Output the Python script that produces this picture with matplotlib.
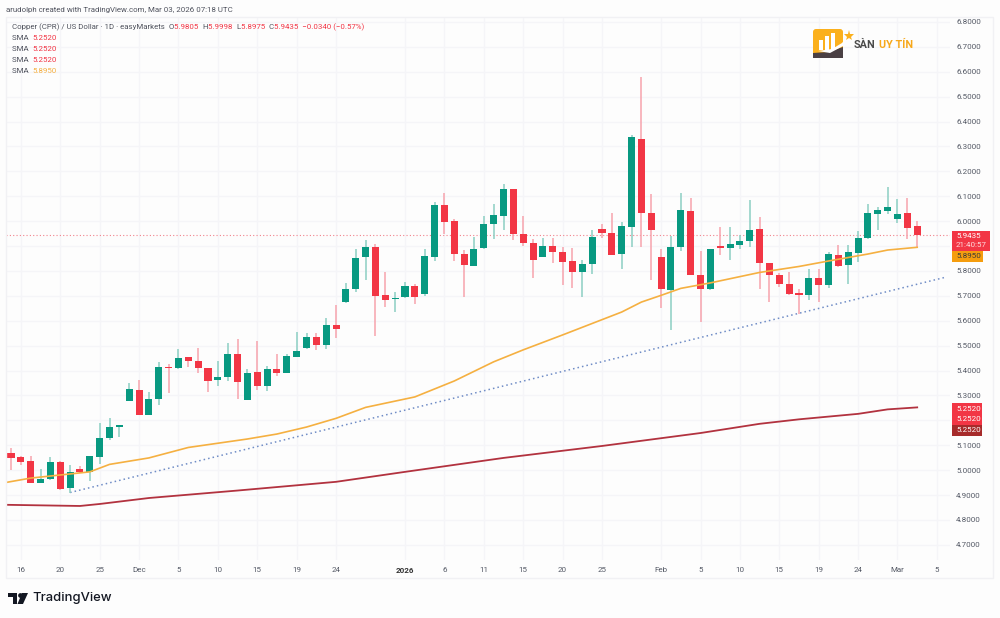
import matplotlib
matplotlib.use('Agg')
import matplotlib.pyplot as plt
from matplotlib.patches import Rectangle, FancyBboxPatch, Polygon

plt.rcParams['font.family'] = ['Roboto', 'DejaVu Sans']

# daily candles
opens = [5.069, 5.053, 5.036, 4.950, 4.965, 5.033, 4.927, 5.004, 4.992, 5.054,
         5.128, 5.175, 5.278, 5.322, 5.222, 5.285, 5.416, 5.409, 5.453, 5.440,
         5.409, 5.361, 5.373, 5.467, 5.282, 5.393, 5.339, 5.406, 5.390, 5.456,
         5.490, 5.534, 5.503, 5.582, 5.675, 5.728, 5.855, 5.895, 5.702, 5.688,
         5.694, 5.739, 5.706, 5.857, 6.066, 6.001, 5.867, 5.821, 5.892, 5.989,
         6.021, 6.128, 5.949, 5.914, 5.857, 5.899, 5.878, 5.839, 5.796, 5.827,
         5.970, 5.951, 5.868, 5.978, 6.330, 6.034, 5.855, 5.724, 5.898, 6.040,
         5.784, 5.726, 5.899, 5.891, 5.906, 5.922, 5.967, 5.833, 5.784, 5.749,
         5.710, 5.704, 5.771, 5.744, 5.864, 5.824, 5.874, 5.931, 6.028, 6.041,
         6.010, 6.032, 5.9805]
highs = [5.090, 5.057, 5.057, 5.004, 5.052, 5.038, 5.020, 5.017, 5.056, 5.188,
         5.208, 5.182, 5.351, 5.362, 5.313, 5.433, 5.425, 5.487, 5.453, 5.492,
         5.409, 5.439, 5.512, 5.528, 5.406, 5.518, 5.418, 5.465, 5.467, 5.555,
         5.550, 5.551, 5.611, 5.663, 5.753, 5.887, 5.925, 5.907, 5.795, 5.715,
         5.755, 5.747, 5.887, 6.076, 6.112, 6.008, 5.884, 5.938, 6.021, 6.069,
         6.149, 6.128, 6.022, 5.927, 5.933, 5.933, 5.895, 5.894, 5.844, 5.963,
         5.989, 6.032, 5.998, 6.345, 6.580, 6.109, 5.888, 5.941, 6.112, 6.092,
         5.880, 5.889, 5.976, 5.976, 5.945, 6.085, 6.018, 5.833, 5.791, 5.797,
         5.726, 5.808, 5.809, 5.875, 5.903, 5.903, 5.962, 6.068, 6.056, 6.139,
         6.088, 6.092, 5.9998]
lows = [5.001, 5.021, 4.949, 4.949, 4.962, 4.922, 4.910, 4.988, 4.957, 5.024,
        5.121, 5.135, 5.278, 5.222, 5.222, 5.262, 5.311, 5.405, 5.416, 5.392,
        5.313, 5.338, 5.358, 5.285, 5.281, 5.322, 5.318, 5.380, 5.390, 5.456,
        5.487, 5.483, 5.487, 5.530, 5.673, 5.714, 5.764, 5.540, 5.657, 5.637,
        5.692, 5.667, 5.700, 5.840, 5.949, 5.840, 5.697, 5.818, 5.888, 5.930,
        5.965, 5.925, 5.900, 5.773, 5.855, 5.833, 5.744, 5.733, 5.694, 5.787,
        5.931, 5.865, 5.808, 5.898, 5.895, 5.764, 5.653, 5.563, 5.880, 5.782,
        5.594, 5.725, 5.864, 5.844, 5.887, 5.898, 5.728, 5.676, 5.737, 5.704,
        5.627, 5.684, 5.677, 5.731, 5.817, 5.748, 5.837, 5.930, 5.965, 6.029,
        5.994, 5.928, 5.8975]
closes = [5.048, 5.033, 4.950, 4.966, 5.033, 4.924, 4.993, 4.992, 5.056, 5.131,
          5.175, 5.182, 5.325, 5.222, 5.286, 5.414, 5.409, 5.451, 5.439, 5.409,
          5.359, 5.374, 5.467, 5.354, 5.392, 5.339, 5.405, 5.390, 5.459, 5.480,
          5.534, 5.503, 5.583, 5.568, 5.729, 5.850, 5.897, 5.698, 5.684, 5.693,
          5.740, 5.695, 5.861, 6.066, 5.997, 5.867, 5.824, 5.888, 5.988, 6.024,
          6.128, 5.949, 5.914, 5.844, 5.899, 5.878, 5.836, 5.796, 5.827, 5.935,
          5.953, 5.866, 5.981, 6.337, 6.033, 5.963, 5.726, 5.896, 6.044, 5.785,
          5.726, 5.887, 5.892, 5.907, 5.922, 5.966, 5.832, 5.784, 5.748, 5.709,
          5.702, 5.771, 5.744, 5.868, 5.820, 5.875, 5.933, 6.032, 6.044, 6.058,
          6.030, 5.974, 5.9435]

sma_fast_x = [-1, 2, 8, 10, 14, 18, 24, 27, 30, 33, 36, 41, 45, 49, 52, 56, 62,
              64, 66, 68, 71, 76, 80, 83, 87, 89, 92]
sma_fast_y = [4.947, 4.968, 4.993, 5.023, 5.049, 5.091, 5.125, 5.145, 5.173,
              5.208, 5.252, 5.294, 5.358, 5.435, 5.483, 5.543, 5.635, 5.675,
              5.702, 5.730, 5.752, 5.794, 5.818, 5.840, 5.868, 5.884, 5.895]
sma_slow_x = [-1, 7, 9, 14, 23, 33, 40, 50, 60, 70, 76, 80, 86, 89, 92]
sma_slow_y = [4.861, 4.856, 4.864, 4.888, 4.918, 4.953, 4.993, 5.049, 5.097,
              5.149, 5.186, 5.204, 5.226, 5.244, 5.252]
trend_x = [6, 94.8]
trend_y = [4.910, 5.774]

last_price = 5.9435

date_pos = [1, 5, 9, 13, 17, 21, 25, 29, 33, 40, 44, 48, 52, 56, 60, 66, 70, 74,
            78, 82, 86, 90, 94]
date_labels = ['16', '20', '25', 'Dec', '5', '10', '15', '19', '24', '2026', '6',
               '11', '15', '20', '25', 'Feb', '5', '10', '15', '19', '24', 'Mar', '5']
price_ticks = [6.8, 6.7, 6.6, 6.5, 6.4, 6.3, 6.2, 6.1, 6.0, 5.9, 5.8, 5.7, 5.6,
               5.5, 5.4, 5.3, 5.2, 5.1, 5.0, 4.9, 4.8, 4.7]
hidden_prices = [5.9, 5.2]

UP = '#089981'
DOWN = '#f23645'
UP_WICK = '#8ccfc3'
DOWN_WICK = '#f7a3ad'
ORANGE = '#f5b041'
MAROON = '#b2323f'
TEXT = '#555a66'
GRID = '#f5f5f8'
FS = 5.8

W, H = 1000, 618
fig = plt.figure(figsize=(W / 100, H / 100), dpi=100, facecolor='#fdfdfd')

# chart pane: x 6..950, y 17..560 in picture pixels
ax = fig.add_axes([6 / W, 1 - 560 / H, 944 / W, 543 / H], facecolor='#fdfdfd')
ax.set_xlim(-0.508, 95.33)
ax.set_ylim(4.639, 6.82)

for i in range(len(opens)):
    up = closes[i] >= opens[i]
    ax.vlines(i, lows[i], highs[i], color=UP_WICK if up else DOWN_WICK, lw=1.1, zorder=3)
    ax.bar(i, abs(closes[i] - opens[i]), bottom=min(opens[i], closes[i]), width=0.72,
           color=UP if up else DOWN, linewidth=0, zorder=4)

ax.plot(sma_slow_x, sma_slow_y, color=MAROON, lw=1.3, zorder=2)
ax.plot(sma_fast_x, sma_fast_y, color=ORANGE, lw=1.2, zorder=5)
ax.plot(trend_x, trend_y, color='#6f8cc6', lw=1.1, ls=(0, (1, 2)), zorder=2)
ax.axhline(last_price, color='#f2828c', lw=0.8, ls=(0, (1, 2)), zorder=2)

ax.set_xticks(date_pos)
ax.set_xticklabels(date_labels)
ax.yaxis.tick_right()
ax.set_yticks(price_ticks)
ax.set_yticklabels(['' if p in hidden_prices else '%.4f' % p for p in price_ticks])
ax.tick_params(axis='both', length=0, labelsize=FS, labelcolor=TEXT)
ax.tick_params(axis='x', pad=5)
ax.tick_params(axis='y', pad=4.5)
for lab, txt in zip(ax.get_xticklabels(), date_labels):
    if txt == '2026':
        lab.set_fontweight('bold')
        lab.set_color('#333333')
ax.grid(True, color=GRID, lw=1)
ax.set_axisbelow(True)
for s in ax.spines.values():
    s.set_visible(False)

# overlay in picture pixels for the frame, labels and logos
ov = fig.add_axes([0, 0, 1, 1], facecolor='none')
ov.set_xlim(0, W)
ov.set_ylim(H, 0)
ov.axis('off')

ov.add_patch(Rectangle((6, 17), 987, 561, fill=False, ec='#f1f1f4', lw=1))
ov.text(6, 10, 'arudolph created with TradingView.com, Mar 03, 2026 07:18 UTC',
        fontsize=5.7, color='#50535e', va='center')


def row(x, y, parts):
    # consecutive coloured pieces of one legend line
    for txt, col in parts:
        t = ov.text(x, y, txt, fontsize=5.7, color=col, va='center')
        x += t.get_window_extent(fig.canvas.get_renderer()).width


row(12, 27, [('Copper (CPR) / US Dollar · 1D · easyMarkets  O', '#50535e'), ('5.9805  ', DOWN),
             ('H', '#50535e'), ('5.9998  ', DOWN), ('L', '#50535e'), ('5.8975  ', DOWN),
             ('C', '#50535e'), ('5.9435  −0.0340 (−0.57%)', DOWN)])
for y, val, col in [(38, '5.2520', DOWN), (49, '5.2520', DOWN), (60, '5.2520', DOWN), (71, '5.8950', ORANGE)]:
    row(12, y, [('SMA  ', '#50535e'), (val, col)])

# price labels on the right scale
ov.add_patch(Rectangle((952, 231), 38, 19.5, fc=DOWN, ec='none'))
ov.text(956, 236.5, '5.9435', fontsize=FS, color='white', va='center')
ov.text(956, 245, '21:40:57', fontsize=FS, color='#ffd9dc', va='center')
ov.add_patch(Rectangle((952, 250.5), 31, 11.5, fc='#f59d0e', ec='none'))
ov.text(956, 256.5, '5.8950', fontsize=FS, color='#3a3a3a', va='center')
ov.add_patch(Rectangle((952, 403), 30, 22, fc=DOWN, ec='none'))
ov.add_patch(Rectangle((952, 425), 30, 11, fc='#a62b2b', ec='none'))
for y in [409, 419, 430]:
    ov.text(956, y, '5.2520', fontsize=FS, color='white', va='center')

# Sàn Uy Tín logo
ov.add_patch(FancyBboxPatch((813, 29), 30, 29, boxstyle='round,pad=0,rounding_size=3',
                            fc='#fbb01c', ec='none'))
for bx, top in [(819, 40), (825, 36), (831, 33)]:
    ov.add_patch(Rectangle((bx, top), 3.5, 50 - top, fc='white', ec='none'))
ov.add_patch(Polygon([(813, 58), (813, 53), (828, 52), (843, 47), (843, 58)], fc='#4a4044', ec='none'))
ov.add_patch(Polygon([(818, 51), (832, 49), (842, 43), (847, 37), (843, 46), (830, 53)], fc='white', ec='none'))
ov.plot([849], [36], marker='*', ms=8, color='#fbb01c', mew=0)
ov.text(854, 45, 'SÀN', fontsize=7.8, fontweight='bold', color='#4a4a4a', va='center')
ov.text(879, 45, 'UY TÍN', fontsize=7.8, fontweight='bold', color='#f7a81b', va='center')

# TradingView logo
ov.add_patch(Polygon([(8, 593), (17, 593), (17, 604), (12.5, 604), (12.5, 597), (8, 597)], fc='#131722', ec='none'))
ov.add_patch(Polygon([(22, 593), (28, 593), (23, 604), (17.5, 604)], fc='#131722', ec='none'))
ov.plot([19.5], [595], marker='o', ms=3.4, color='#131722', mew=0)
ov.text(32, 598.5, 'TradingView', fontsize=9.4, fontweight='medium', color='#131722', va='center',
        family=['Inter', 'DejaVu Sans'])

fig.savefig('out.png', dpi=100, facecolor=fig.get_facecolor())
